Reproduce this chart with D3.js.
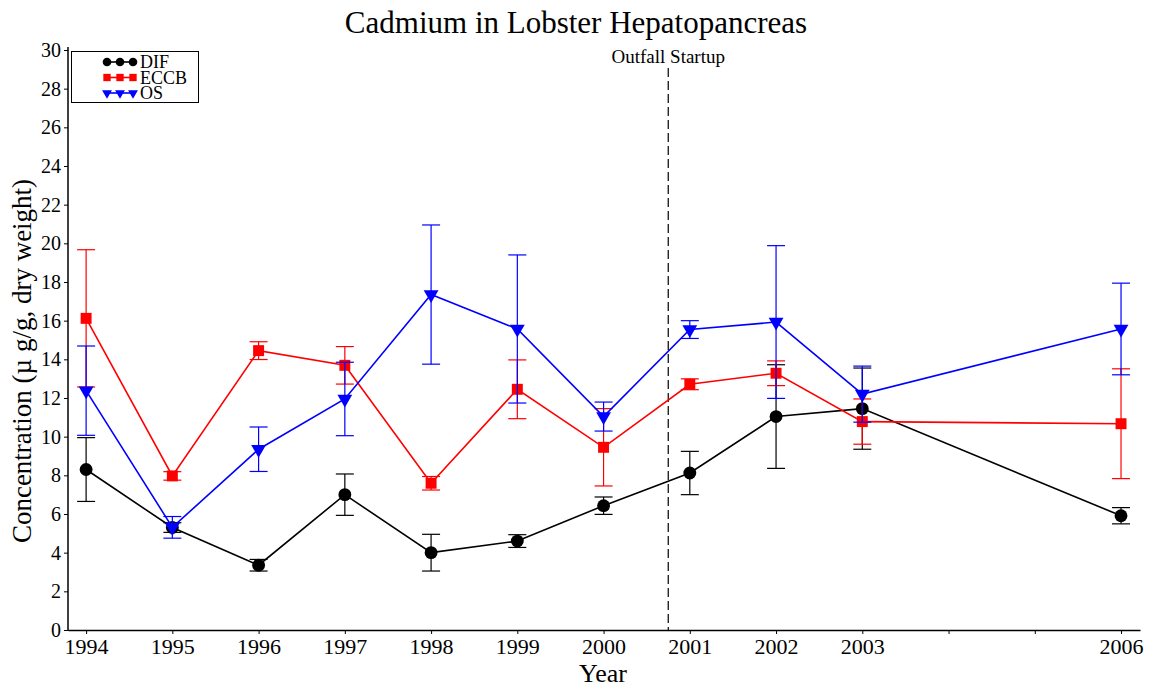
<!DOCTYPE html>
<html>
<head>
<meta charset="utf-8">
<script src="https://cdn.jsdelivr.net/npm/d3@7"></script>
<style>
    body { margin: 0; background: #fff; }
    svg { display: block; font-family: "Liberation Serif", "DejaVu Serif", serif; }
</style>
</head>
<body>
<div id="chart"></div>
<script>
(function () {
    var years = [1994, 1995, 1996, 1997, 1998, 1999, 2000, 2001, 2002, 2003, 2006];
    var xTicks = [1994, 1995, 1996, 1997, 1998, 1999, 2000, 2001, 2002, 2003, 2004, 2005, 2006];
    var xTickLabels = ['1994', '1995', '1996', '1997', '1998', '1999', '2000', '2001', '2002', '2003', '', '', '2006'];
    var yTicks = [0, 2, 4, 6, 8, 10, 12, 14, 16, 18, 20, 22, 24, 26, 28, 30];

    var difMean = [8.3, 5.3, 3.35, 7.0, 4.0, 4.6, 6.43, 8.12, 11.04, 11.45, 5.91];
    var difErr = [1.65, 0.25, 0.3, 1.07, 0.95, 0.33, 0.45, 1.12, 2.68, 2.1, 0.42];
    var eccbMean = [16.12, 7.97, 14.45, 13.69, 7.59, 12.45, 9.45, 12.71, 13.28, 10.78, 10.67];
    var eccbErr = [3.55, 0.22, 0.46, 0.97, 0.35, 1.52, 2.0, 0.28, 0.64, 1.17, 2.84];
    var osMean = [12.38, 5.31, 9.35, 11.95, 17.35, 15.57, 11.04, 15.54, 15.93, 12.2, 15.57];
    var osErr = [2.31, 0.56, 1.15, 1.9, 3.6, 3.83, 0.75, 0.46, 3.95, 1.45, 2.37];

    var outfallYear = 2000.75;

    var series = [
        { name: 'DIF', color: '#000000', symbol: d3.symbolCircle, size: 130, mean: difMean, err: difErr },
        { name: 'ECCB', color: '#ff0000', symbol: d3.symbolSquare, size: 120, mean: eccbMean, err: eccbErr },
        { name: 'OS', color: '#0000ff', symbol: d3.symbolTriangle, size: 95, mean: osMean, err: osErr, flip: true }
    ];

    var width = 1153, height = 688;

    var x = d3.scaleLinear()
        .domain([1993.79, 2006.22])
        .range([68, 1140]);

    var y = d3.scaleLinear()
        .domain([0, 30])
        .range([630, 50]);

    var svg = d3.select('#chart').append('svg')
        .attr('width', width)
        .attr('height', height);

    // title
    svg.append('text')
        .attr('x', 576)
        .attr('y', 33)
        .attr('text-anchor', 'middle')
        .attr('font-size', 31)
        .text('Cadmium in Lobster Hepatopancreas');

    // axes
    var xAxis = d3.axisBottom(x)
        .tickValues(xTicks)
        .tickFormat(function (d, i) { return xTickLabels[i]; })
        .tickSizeInner(4)
        .tickSizeOuter(0)
        .tickPadding(4);

    var gx = svg.append('g')
        .attr('transform', 'translate(0,' + y(0) + ')')
        .call(xAxis);
    gx.select('.domain').attr('stroke-width', 1.5);
    gx.selectAll('text')
        .attr('font-family', '"Liberation Serif", serif')
        .attr('font-size', 22)
        .attr('fill', '#000');

    var yAxis = d3.axisLeft(y)
        .tickValues(yTicks)
        .tickSizeInner(4)
        .tickSizeOuter(0)
        .tickPadding(3);

    var gy = svg.append('g')
        .attr('transform', 'translate(' + x.range()[0] + ',0)')
        .call(yAxis);
    gy.select('.domain').attr('d', 'M0,' + (y(0) + 1) + 'V' + (y(30) - 3)).attr('stroke-width', 1.5);
    gy.selectAll('text')
        .attr('font-family', '"Liberation Serif", serif')
        .attr('font-size', 20)
        .attr('fill', '#000');

    // axis labels
    svg.append('text')
        .attr('x', 603)
        .attr('y', 682)
        .attr('text-anchor', 'middle')
        .attr('font-size', 26)
        .text('Year');

    svg.append('text')
        .attr('transform', 'translate(31,' + 361 + ') rotate(-90)')
        .attr('text-anchor', 'middle')
        .attr('font-size', 27)
        .text('Concentration (\u00b5 g/g, dry weight)');

    // outfall startup marker
    svg.append('line')
        .attr('x1', x(outfallYear))
        .attr('x2', x(outfallYear))
        .attr('y1', 68)
        .attr('y2', y(0))
        .attr('stroke', '#000')
        .attr('stroke-width', 1.2)
        .attr('stroke-dasharray', '9,4');

    svg.append('text')
        .attr('x', x(outfallYear))
        .attr('y', 63)
        .attr('text-anchor', 'middle')
        .attr('font-size', 19)
        .text('Outfall Startup');

    var line = d3.line()
        .x(function (d) { return x(d.year); })
        .y(function (d) { return y(d.mean); });

    var capHalf = 9;

    series.forEach(function (s) {
        var pts = years.map(function (yr, i) {
            return { year: yr, mean: s.mean[i], err: s.err[i] };
        });
        var g = svg.append('g').attr('class', 'series-' + s.name);

        g.append('path')
            .datum(pts)
            .attr('fill', 'none')
            .attr('stroke', s.color)
            .attr('stroke-width', 1.6)
            .attr('d', line);

        var eb = g.selectAll('.err')
            .data(pts)
            .enter().append('g')
            .attr('class', 'err')
            .attr('stroke', s.color)
            .attr('stroke-width', 1.2);

        eb.append('line')
            .attr('x1', function (d) { return x(d.year); })
            .attr('x2', function (d) { return x(d.year); })
            .attr('y1', function (d) { return y(d.mean - d.err); })
            .attr('y2', function (d) { return y(d.mean + d.err); });

        eb.append('line')
            .attr('x1', function (d) { return x(d.year) - capHalf; })
            .attr('x2', function (d) { return x(d.year) + capHalf; })
            .attr('y1', function (d) { return y(d.mean + d.err); })
            .attr('y2', function (d) { return y(d.mean + d.err); });

        eb.append('line')
            .attr('x1', function (d) { return x(d.year) - capHalf; })
            .attr('x2', function (d) { return x(d.year) + capHalf; })
            .attr('y1', function (d) { return y(d.mean - d.err); })
            .attr('y2', function (d) { return y(d.mean - d.err); });

        var sym = d3.symbol().type(s.symbol).size(s.size);
        g.selectAll('.pt')
            .data(pts)
            .enter().append('path')
            .attr('class', 'pt')
            .attr('fill', s.color)
            .attr('d', sym)
            .attr('transform', function (d) {
                return 'translate(' + x(d.year) + ',' + y(d.mean) + ')' + (s.flip ? ' rotate(180)' : '');
            });
    });

    // legend
    var legend = svg.append('g').attr('class', 'legend');
    legend.append('rect')
        .attr('x', 71.5)
        .attr('y', 51.5)
        .attr('width', 127)
        .attr('height', 51)
        .attr('fill', '#fff')
        .attr('stroke', '#000')
        .attr('stroke-width', 1);

    series.forEach(function (s, i) {
        var ly = 62 + i * 15.5;
        var row = legend.append('g');
        row.append('line')
            .attr('x1', 106)
            .attr('x2', 134)
            .attr('y1', ly)
            .attr('y2', ly)
            .attr('stroke', s.color)
            .attr('stroke-width', 1.6);
        var sym = d3.symbol().type(s.symbol).size(s.size * 0.45);
        [107, 120, 133].forEach(function (mx) {
            row.append('path')
                .attr('fill', s.color)
                .attr('d', sym)
                .attr('transform', 'translate(' + mx + ',' + ly + ')' + (s.flip ? ' rotate(180)' : ''));
        });
        row.append('text')
            .attr('x', 140)
            .attr('y', ly + 6)
            .attr('font-size', 18)
            .text(s.name);
    });
})();
</script>
</body>
</html>
